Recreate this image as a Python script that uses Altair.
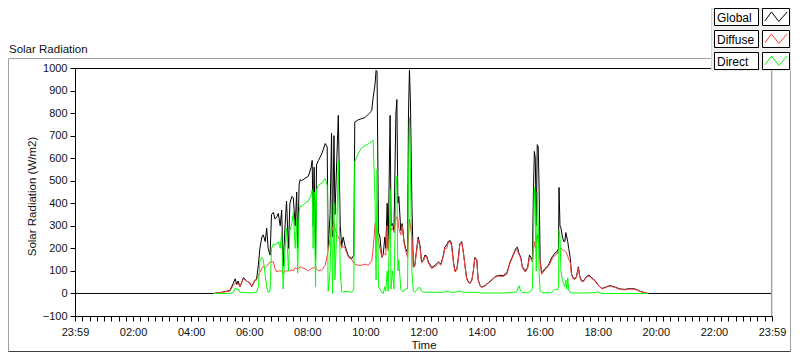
import altair as alt
import pandas as pd

# ---------------- data ----------------
times = [
    "04:46", "05:03", "05:20", "05:27", "05:31", "05:34", "05:37", "05:41", "05:48", "05:55",
    "06:02", "06:05", "06:12", "06:15", "06:19", "06:22", "06:26", "06:29", "06:33", "06:36",
    "06:39", "06:43", "06:46", "06:50", "06:53", "06:57", "07:00", "07:04", "07:07", "07:10",
    "07:14", "07:17", "07:21", "07:24", "07:28", "07:31", "07:35", "07:38", "07:40", "07:43",
    "07:45", "07:48", "07:55", "08:02", "08:08", "08:10", "08:12", "08:14", "08:17", "08:19",
    "08:23", "08:30", "08:37", "08:41", "08:43", "08:47", "08:50", "08:52", "08:55", "08:57",
    "09:01", "09:04", "09:08", "09:11", "09:14", "09:18", "09:25", "09:32", "09:36", "09:38",
    "09:45", "09:52", "09:59", "10:06", "10:13", "10:16", "10:20", "10:22", "10:24", "10:27",
    "10:30", "10:34", "10:37", "10:40", "10:42", "10:45", "10:47", "10:51", "10:53", "10:56",
    "10:59", "11:03", "11:05", "11:07", "11:09", "11:13", "11:16", "11:20", "11:23", "11:27",
    "11:29", "11:31", "11:33", "11:36", "11:39", "11:42", "11:46", "11:49", "11:53", "11:56",
    "12:00", "12:03", "12:07", "12:10", "12:17", "12:24", "12:31", "12:36", "12:41", "12:44",
    "12:48", "12:51", "12:55", "12:58", "13:02", "13:05", "13:09", "13:12", "13:15", "13:19",
    "13:22", "13:26", "13:29", "13:33", "13:36", "13:40", "13:43", "13:46", "13:50", "13:53",
    "13:57", "14:00", "14:07", "14:14", "14:21", "14:28", "14:35", "14:45", "14:52", "14:59",
    "15:06", "15:11", "15:14", "15:17", "15:21", "15:24", "15:30", "15:35", "15:39", "15:42",
    "15:45", "15:47", "15:49", "15:51", "15:53", "15:55", "15:57", "15:59", "16:01", "16:04",
    "16:11", "16:18", "16:25", "16:32", "16:36", "16:39", "16:40", "16:42", "16:44", "16:47",
    "16:50", "16:52", "16:54", "16:56", "16:58", "17:00", "17:03", "17:06", "17:09", "17:13",
    "17:16", "17:20", "17:23", "17:27", "17:30", "17:37", "17:42", "17:47", "17:54", "18:00",
    "18:05", "18:09", "18:18", "18:25", "18:36", "18:46", "18:56", "19:07", "19:17", "19:27",
    "19:38", "19:44",
]

global_w = [
    0, 5, 13, 45, 65, 40, 55, 30, 70, 55,
    45, 30, 60, 60, 130, 200, 250, 260, 230, 290,
    200, 170, 350, 360, 330, 340, 355, 300, 370, 120,
    300, 410, 200, 400, 430, 425, 300, 450, 200, 480,
    505, 500, 510, 520, 560, 590, 300, 560, 150, 570,
    590, 620, 665, 650, 200, 350, 710, 250, 700, 350,
    600, 790, 300, 210, 250, 210, 165, 155, 170, 760,
    770, 775, 780, 795, 810, 870, 930, 990, 985, 270,
    250, 160, 175, 250, 200, 400, 200, 790, 300, 310,
    280, 800, 860, 400, 430, 280, 310, 230, 200, 180,
    800, 990, 850, 400, 120, 125, 200, 250, 210, 140,
    150, 170, 165, 140, 115, 125, 140, 130, 170, 205,
    215, 230, 235, 220, 140, 100, 110, 160, 220, 230,
    190, 120, 70, 50, 45, 60, 100, 160, 150, 60,
    35, 28, 35, 48, 60, 75, 80, 80, 90, 140,
    175, 200, 205, 180, 160, 120, 100, 115, 170, 160,
    150, 440, 630, 600, 300, 660, 650, 450, 150, 90,
    110, 125, 160, 180, 185, 200, 470, 300, 290, 250,
    230, 230, 270, 250, 230, 200, 160, 85, 70, 65,
    75, 118, 75, 55, 55, 75, 82, 70, 58, 40,
    28, 22, 30, 35, 28, 20, 18, 22, 20, 10,
    3, 0,
]

diffuse_w = [
    0, 5, 10, 35, 45, 40, 45, 30, 65, 55,
    45, 30, 60, 60, 80, 95, 110, 120, 115, 120,
    130, 140, 140, 140, 110, 95, 100, 100, 100, 90,
    100, 100, 100, 100, 105, 100, 115, 110, 110, 110,
    120, 115, 110, 100, 110, 115, 110, 115, 120, 110,
    100, 105, 125, 170, 190, 240, 300, 280, 320, 290,
    260, 250, 230, 200, 210, 200, 160, 150, 135, 130,
    125, 125, 130, 125, 145, 200, 310, 300, 290, 230,
    200, 160, 175, 175, 170, 300, 190, 310, 280, 290,
    270, 330, 340, 330, 290, 260, 300, 220, 190, 160,
    250, 330, 300, 250, 115, 120, 190, 240, 200, 135,
    145, 165, 160, 135, 110, 120, 135, 125, 165, 200,
    200, 225, 230, 210, 135, 95, 105, 150, 215, 225,
    185, 115, 65, 48, 43, 58, 100, 155, 145, 58,
    33, 27, 33, 46, 58, 72, 77, 75, 85, 135,
    170, 195, 190, 175, 155, 115, 95, 110, 160, 150,
    140, 200, 230, 200, 230, 260, 230, 200, 140, 85,
    105, 120, 150, 170, 175, 190, 195, 200, 200, 195,
    190, 190, 185, 175, 165, 150, 140, 80, 66, 62,
    72, 112, 70, 52, 52, 72, 78, 68, 55, 38,
    27, 20, 28, 33, 26, 18, 16, 20, 18, 9,
    3, 0,
]

direct_w = [
    0, 0, 0, 5, 25, 20, 20, 5, 5, 3,
    3, 2, 5, 5, 30, 140, 160, 150, 80, 30,
    5, 10, 200, 220, 215, 220, 230, 200, 270, 20,
    200, 290, 100, 280, 310, 360, 200, 330, 90, 360,
    390, 385, 400, 410, 440, 460, 200, 450, 30, 460,
    480, 490, 510, 480, 10, 100, 420, 0, 400, 60,
    300, 585, 100, 10, 5, 10, 8, 5, 20, 585,
    620, 644, 655, 664, 675, 680, 400, 60, 550, 30,
    20, 5, 0, 30, 10, 100, 10, 460, 20, 100,
    20, 460, 520, 100, 150, 20, 10, 10, 20, 20,
    500, 780, 560, 100, 10, 5, 15, 25, 25, 10,
    5, 5, 5, 5, 5, 5, 5, 5, 5, 8,
    10, 10, 5, 5, 5, 5, 8, 10, 10, 10,
    5, 5, 5, 5, 5, 5, 5, 5, 5, 5,
    3, 2, 2, 2, 2, 2, 2, 2, 3, 5,
    5, 5, 15, 35, 10, 5, 3, 3, 8, 10,
    20, 250, 470, 300, 100, 450, 300, 80, 10, 5,
    3, 3, 5, 20, 15, 30, 280, 250, 100, 60,
    40, 30, 60, 20, 70, 15, 5, 3, 2, 2,
    2, 3, 2, 2, 2, 2, 3, 3, 3, 8,
    3, 0, 0, 0, 0, 0, 0, 0, 0, 0,
    0, 0,
]

series_names = ["Global", "Diffuse", "Direct"]
series_colors = ["#000000", "#ff4040", "#00ff00"]
y_ticks = list(range(-100, 1001, 100))
x_tick_minutes = list(range(0, 1441, 15))
day_start, day_end = 0, 1440


def to_minutes(t):
    h, m = t.split(":")
    return int(h) * 60 + int(m)


mins = [to_minutes(t) for t in times]
frames = {
    "Global": pd.DataFrame({"minute": [day_start] + mins + [day_end],
                            "value": [0] + global_w + [0]}),
    "Diffuse": pd.DataFrame({"minute": mins, "value": diffuse_w}),
    "Direct": pd.DataFrame({"minute": mins, "value": direct_w}),
}

# ---------------- layout ----------------
W, H = 697, 248
FONT = "Liberation Sans"
TXT = "#111111"

xscale = alt.Scale(domain=[day_start, day_end], nice=False, zero=False)
yscale = alt.Scale(domain=[-100, 1000], nice=False, zero=False)

label_expr = (
    "datum.value % 120 === 0 ? ((datum.value === 0 || datum.value === 1440) ? '23:59' : "
    "((datum.value < 600 ? '0' : '') + (datum.value / 60) + ':00')) : ''"
)

x_axis = alt.Axis(
    values=x_tick_minutes, labelExpr=label_expr, labelOverlap=False, labelFlush=False,
    labelBound=False, grid=False, tickSize=5, tickColor="#000", domainColor="#000",
    labelFont=FONT, labelFontSize=11, labelColor=TXT, labelPadding=5,
    title="Time", titleFont=FONT, titleFontSize=11.5, titleFontWeight="normal",
    titleColor=TXT, titleY=32, titleBaseline="alphabetic",
)
y_axis = alt.Axis(
    values=y_ticks, format="d", labelFlush=False, labelOverlap=False, grid=False, tickSize=5,
    tickColor="#000", domainColor="#000", labelFont=FONT, labelFontSize=11,
    labelColor=TXT, labelPadding=3,
    title="Solar Radiation (W/m2)", titleFont=FONT, titleFontSize=11.5,
    titleFontWeight="normal", titleColor=TXT, titleAngle=270, titleX=-43, titleY=128,
    titleAlign="center", titleBaseline="middle",
)

one = pd.DataFrame({"k": [0]})
layers = []

# outer frame
layers.append(alt.Chart(one).mark_rect(fillOpacity=0, stroke="#a0a0a0", strokeWidth=1).encode(
    x=alt.value(-66.5), x2=alt.value(715.5), y=alt.value(-9.5), y2=alt.value(283.5)))
layers.append(alt.Chart(one).mark_rule(color="#404040", strokeWidth=1).encode(
    x=alt.value(-66.5), x2=alt.value(715.5), y=alt.value(283.5)))

# data lines (Global first, Diffuse, Direct on top) - all share the same scales/axes
for i, name in enumerate(series_names):
    layers.append(alt.Chart(frames[name]).mark_line(
        color=series_colors[i], strokeWidth=1, clip=True).encode(
        x=alt.X("minute:Q", scale=xscale, axis=x_axis),
        y=alt.Y("value:Q", scale=yscale, axis=y_axis),
    ))

# plot-area border: top black, right gray
layers.append(alt.Chart(one).mark_rule(color="#000", strokeWidth=1).encode(
    x=alt.value(0), x2=alt.value(W), y=alt.value(0.5)))
layers.append(alt.Chart(one).mark_rule(color="#a0a0a0", strokeWidth=1).encode(
    x=alt.value(W - 0.5), y=alt.value(0), y2=alt.value(H)))

# chart title
layers.append(alt.Chart(one).mark_text(
    text="Solar Radiation", align="left", baseline="alphabetic", font=FONT,
    fontSize=11.5, color=TXT).encode(x=alt.value(-66), y=alt.value(-15)))

# legend
layers.append(alt.Chart(one).mark_rect(fill="#f0f0f0", stroke="#d8d8d8", strokeWidth=1).encode(
    x=alt.value(636.5), x2=alt.value(716), y=alt.value(-59.5), y2=alt.value(2)))
ZIGZAG = "M-1,0.35L-0.4,-0.45L0.25,0.4L1,-0.45"
row_centers = [-51, -29, -7]
for i, name in enumerate(series_names):
    cy = row_centers[i]
    layers.append(alt.Chart(one).mark_rect(fill="#ffffff", stroke="#000", strokeWidth=1).encode(
        x=alt.value(639.5), x2=alt.value(683.5), y=alt.value(cy - 8.5), y2=alt.value(cy + 8.5)))
    layers.append(alt.Chart(one).mark_rect(fill="#ffffff", stroke="#000", strokeWidth=1).encode(
        x=alt.value(687.5), x2=alt.value(714.5), y=alt.value(cy - 8.5), y2=alt.value(cy + 8.5)))
    layers.append(alt.Chart(one).mark_text(
        text=name, align="left", baseline="middle", font=FONT, fontSize=12,
        color="#000").encode(x=alt.value(642), y=alt.value(cy + 0.5)))
    layers.append(alt.Chart(one).mark_point(
        shape=ZIGZAG, size=500, filled=False, opacity=1, strokeWidth=1,
        color=series_colors[i]).encode(x=alt.value(701), y=alt.value(cy)))

chart = alt.layer(*layers).properties(
    width=W, height=H,
    padding={"left": 67, "top": 60, "right": 19, "bottom": 36},
    autosize=alt.AutoSizeParams(type="none"),
).configure_view(strokeWidth=0, stroke="transparent").configure(background="#ffffff")

chart.save("out.html", embed_options={"renderer": "svg", "actions": False})
